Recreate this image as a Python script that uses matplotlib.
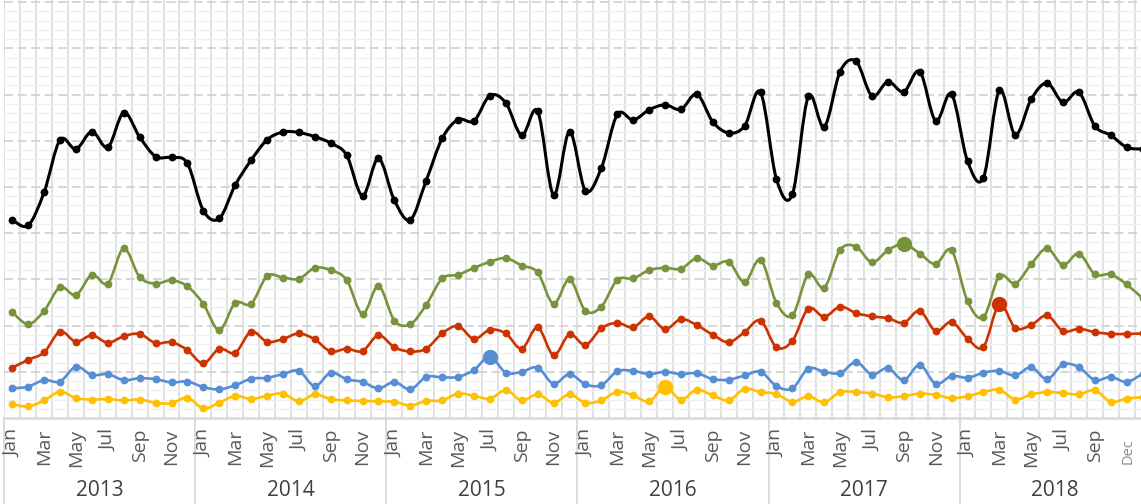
import numpy as np
import matplotlib
matplotlib.use("Agg")
import matplotlib.pyplot as plt
from matplotlib.path import Path
from matplotlib.patches import PathPatch
import matplotlib.transforms as mtransforms

plt.rcParams['font.family'] = ['Open Sans', 'DejaVu Sans']

# ---------------- data ----------------
years = ['2013', '2014', '2015', '2016', '2017', '2018']
month_names = ['Jan', 'Feb', 'Mar', 'Apr', 'May', 'Jun',
               'Jul', 'Aug', 'Sep', 'Oct', 'Nov', 'Dec']

black = [42.9, 41.7, 48.9, 60.2, 58.2, 62.0, 58.6, 66.1, 60.8, 56.6, 56.4, 55.1,
         44.9, 43.2, 50.4, 55.8, 60.2, 61.9, 61.8, 60.9, 59.5, 56.9, 48.1, 56.2,
         47.1, 42.9, 51.4, 60.5, 64.6, 64.3, 69.8, 68.2, 61.2, 66.4, 48.3, 62.0,
         49.2, 54.1, 65.7, 64.5, 66.7, 67.8, 66.8, 70.1, 64.1, 61.7, 63.2, 70.5,
         51.7, 48.4, 69.6, 63.0, 75.0, 77.2, 69.7, 72.8, 70.6, 75.0, 64.3, 70.1,
         55.6, 52.0, 70.9, 61.3, 69.0, 72.5, 68.3, 70.5, 63.2, 61.2, 58.6, 58.2]

green = [22.9, 20.3, 23.2, 28.3, 26.6, 31.0, 29.1, 36.7, 30.5, 29.1, 29.8, 28.5,
         24.7, 19.0, 24.9, 24.7, 30.7, 30.4, 30.1, 32.5, 32.0, 29.9, 22.5, 28.6,
         21.1, 20.3, 24.5, 30.2, 31.0, 32.5, 33.8, 34.6, 33.0, 31.5, 24.7, 30.0,
         23.2, 24.1, 29.9, 30.2, 32.0, 32.5, 32.3, 34.6, 33.0, 33.8, 29.4, 34.3,
         24.9, 22.2, 31.1, 28.2, 36.4, 37.1, 33.7, 36.3, 37.7, 35.6, 33.3, 36.3,
         25.3, 21.8, 30.7, 29.1, 33.3, 36.7, 33.1, 35.6, 31.1, 31.1, 28.9, 25.9]

red = [10.9, 12.6, 14.2, 18.7, 16.5, 17.9, 16.3, 17.7, 18.2, 16.2, 16.4, 14.7,
       11.8, 15.0, 14.1, 18.7, 16.5, 17.1, 18.3, 17.0, 14.4, 15.0, 14.5, 17.9,
       15.3, 14.4, 15.0, 18.3, 19.9, 17.1, 19.1, 18.3, 15.0, 19.6, 13.6, 18.1,
       15.8, 19.4, 20.6, 19.6, 22.0, 19.2, 21.4, 20.1, 18.0, 16.4, 18.6, 21.1,
       15.3, 16.7, 23.7, 21.9, 24.1, 22.7, 22.0, 21.6, 20.6, 23.2, 18.8, 20.8,
       17.2, 15.4, 24.6, 19.5, 20.1, 22.2, 18.8, 19.3, 18.6, 18.2, 18.2, 18.3]

blue = [6.4, 6.8, 8.2, 7.9, 11.1, 9.3, 9.5, 8.2, 8.6, 8.4, 7.7, 7.9,
        6.7, 6.2, 7.1, 8.5, 8.7, 9.5, 10.2, 6.9, 9.8, 8.4, 7.8, 6.4,
        7.8, 6.2, 8.9, 8.8, 8.9, 10.4, 13.3, 9.8, 10.0, 10.9, 7.4, 9.5,
        7.3, 7.1, 10.1, 10.2, 9.5, 10.0, 9.5, 9.7, 8.4, 8.3, 9.2, 10.0,
        6.9, 6.4, 10.7, 10.0, 9.7, 12.1, 9.4, 10.8, 8.2, 11.5, 7.4, 9.1,
        8.7, 9.8, 10.2, 9.2, 11.0, 8.4, 11.6, 11.0, 8.2, 8.9, 7.8, 9.6]

yellow = [3.0, 2.5, 3.8, 5.7, 4.3, 4.0, 4.1, 3.8, 4.0, 3.3, 3.2, 4.4,
          2.1, 3.3, 4.8, 4.1, 4.8, 5.3, 3.6, 5.1, 4.1, 3.8, 3.7, 3.6,
          3.5, 2.7, 3.7, 3.8, 5.3, 4.8, 4.2, 6.0, 3.8, 5.1, 3.3, 5.1,
          3.3, 3.8, 5.7, 4.9, 3.6, 6.7, 4.0, 6.1, 4.9, 3.8, 6.3, 5.6,
          5.2, 3.5, 4.7, 3.4, 5.6, 5.6, 5.3, 4.5, 4.7, 5.3, 5.0, 4.3,
          4.7, 5.6, 6.1, 4.0, 5.1, 5.6, 5.4, 5.1, 6.0, 3.5, 4.2, 4.5]

# highlighted (large marker) month index per series
highlight_blue = 30     # Jul 2015
highlight_yellow = 41   # Jun 2016
highlight_green = 56    # Sep 2017
highlight_red = 62      # Mar 2018

# month tick labels shown (every other month), last year ends with Dec
tick_label_idx = [i for i in range(70) if i % 2 == 0]
end_label = 'Dec'

# ---------------- figure ----------------
W, H = 1141, 504
fig = plt.figure(figsize=(W / 100, H / 100), dpi=100)
px_left = 4.34
px_w = 72 * 15.92
px_bottom = H - 418
ax = fig.add_axes([px_left / W, px_bottom / H, px_w / W, (H - px_bottom) / H])
ax.set_xlim(-0.5, 71.5)
ax.set_ylim(0, 418 / 4.62)

n = len(black)
x = np.arange(n)

# grid
for b in np.arange(-0.5, 72.0, 1.0):
    ax.axvline(b, color='#dcdcdc', lw=1.2, zorder=0)
for v in np.arange(2, 91, 2):
    if abs(v % 10) > 1e-6:
        ax.axhline(v, color='#efefef', lw=0.9, zorder=0)
for v in np.arange(10, 91, 10):
    ax.axhline(v, color='#d3d3d3', lw=1.3, ls=(0, (5, 2.5)), zorder=0.5)


def smooth_path(xs, ys):
    verts = [(xs[0], ys[0])]
    codes = [Path.MOVETO]
    m = len(xs)
    for i in range(m - 1):
        p0 = i - 1 if i > 0 else i
        p3 = i + 2 if i + 2 < m else i + 1
        c1 = (xs[i] + (xs[i + 1] - xs[p0]) / 6.0, ys[i] + (ys[i + 1] - ys[p0]) / 6.0)
        c2 = (xs[i + 1] - (xs[p3] - xs[i]) / 6.0, ys[i + 1] - (ys[p3] - ys[i]) / 6.0)
        verts += [c1, c2, (xs[i + 1], ys[i + 1])]
        codes += [Path.CURVE4] * 3
    return Path(verts, codes)


series = [
    (yellow, '#FFC000', 1.9, highlight_yellow),
    (blue, '#558ED5', 1.9, highlight_blue),
    (red, '#CC3300', 1.9, highlight_red),
    (green, '#77933C', 1.9, highlight_green),
    (black, '#000000', 2.2, None),
]
for k, (vals, col, lw, hi) in enumerate(series):
    vals = np.asarray(vals, dtype=float)
    patch = PathPatch(smooth_path(x, vals), fill=False, edgecolor=col, lw=lw,
                      capstyle='round', joinstyle='round', zorder=3 + k)
    ax.add_patch(patch)
    ax.plot(x, vals, ls='none', marker='o', ms=4.6, color=col, zorder=3.5 + k)
    if hi is not None:
        ax.plot([x[hi]], [vals[hi]], ls='none', marker='o', ms=10, color=col,
                zorder=3.6 + k)

# axes styling
for s in ['top', 'right', 'left']:
    ax.spines[s].set_visible(False)
ax.spines['bottom'].set_color('#d9d9d9')
ax.spines['bottom'].set_linewidth(1.8)
ax.set_yticks([])
ax.set_xticks([])

trans = ax.get_xaxis_transform()
off = mtransforms.ScaledTranslation(0, -11 / 100, fig.dpi_scale_trans)
for i in tick_label_idx:
    ax.text(x[i], 0, month_names[i % 12], rotation=90, ha='center', va='top',
            fontsize=14, color='#595959', transform=trans + off, clip_on=False)
off2 = mtransforms.ScaledTranslation(0, -46 / 100, fig.dpi_scale_trans)
ax.text(70.1, 0, end_label, rotation=90, ha='center', va='bottom',
        fontsize=10.5, color='#8c8c8c', transform=trans + off2, clip_on=False)

# year labels and separators
for k, yr in enumerate(years):
    ax.text(12 * k + 5.5, 0, yr, ha='center', va='center', fontsize=15,
            color='#404040', transform=trans + mtransforms.ScaledTranslation(0, -73 / 100, fig.dpi_scale_trans),
            clip_on=False)
for k in range(7):
    ax.plot([12 * k - 0.5, 12 * k - 0.5], [0, -0.25], color='#d9d9d9', lw=1.3,
            transform=trans, clip_on=False)

fig.savefig('out.png', dpi=100)
